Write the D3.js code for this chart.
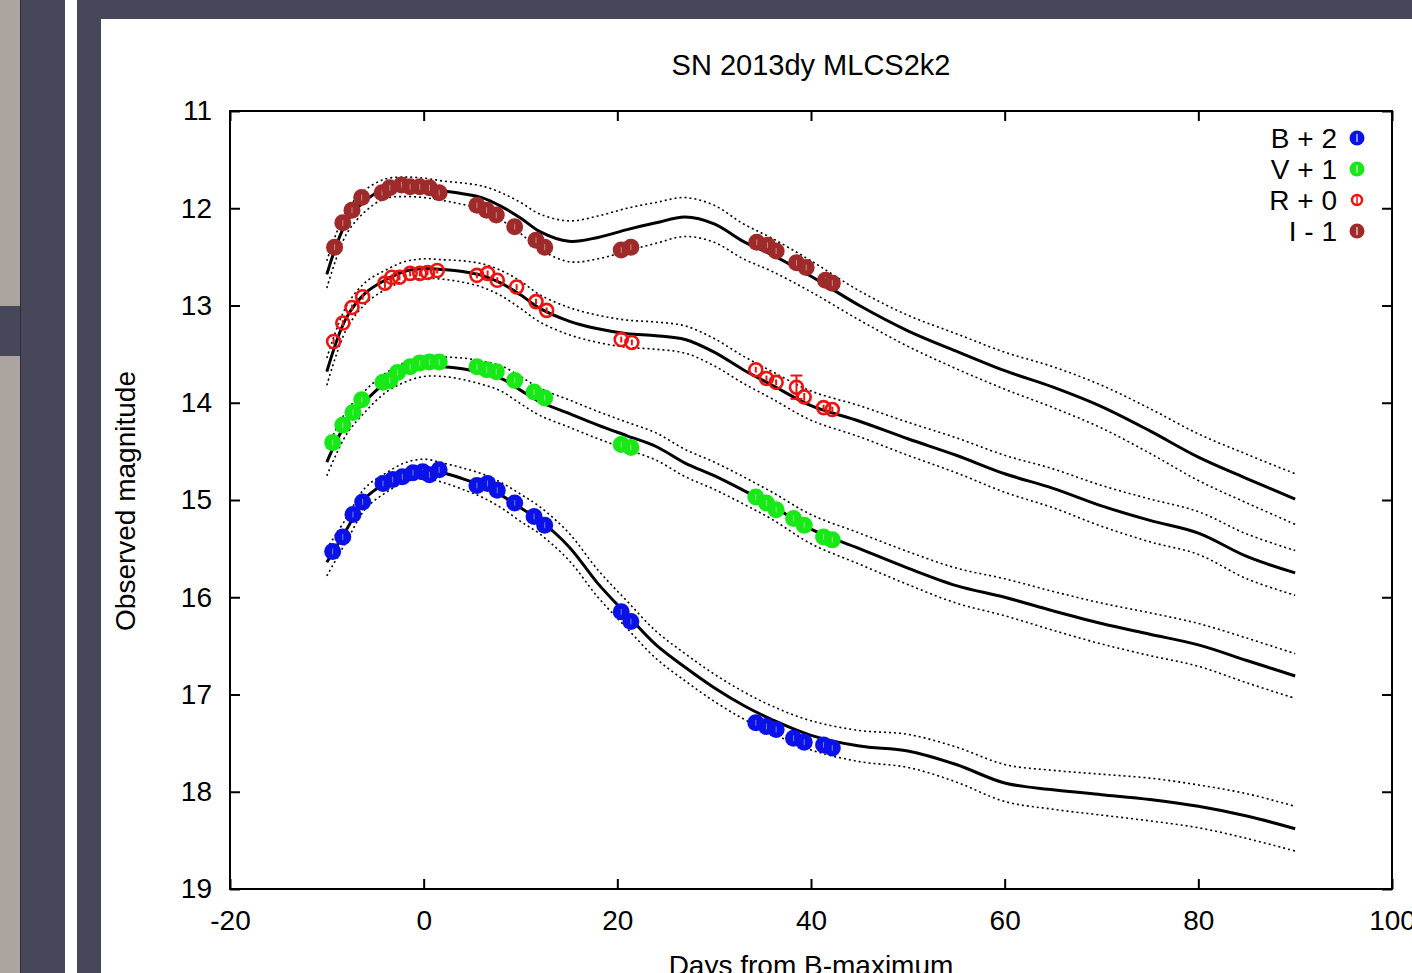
<html>
<head>
	<meta charset="utf-8">
	<style type="text/css">
		body { margin: 0; background: #464759; overflow: hidden; }
		svg text { font-family: "Liberation Sans", Arial, Helvetica, sans-serif; fill: #000; }
		.model { fill: none; stroke: #000; stroke-width: 3; }
		.model.sig { stroke-width: 1.6; stroke-dasharray: 2 3; }
		.frame { fill: none; stroke: #000; stroke-width: 2; }
		.tick line { stroke: #000; stroke-width: 2; }
	</style>
	<script src="https://d3js.org/d3.v7.min.js"></script>
</head>
<body>
<script type="text/javascript">

	// plotted values (offsets B+2, V+1, R+0, I-1 already applied)
	var bDays = [-9.4,-8.35,-7.3,-6.3,-4.2,-3.2,-2.2,-1.1,-0.1,0.6,1.6,5.5,6.6,7.6,9.4,11.4,12.5,20.4,21.4,34.3,35.4,36.4,38.2,39.3,41.3,42.2];
	var bMag  = [15.53,15.38,15.15,15.02,14.83,14.79,14.76,14.72,14.71,14.74,14.69,14.85,14.83,14.90,15.03,15.17,15.26,16.15,16.25,17.29,17.33,17.36,17.45,17.49,17.52,17.55];

	var vDays = [-9.4,-8.35,-7.3,-6.4,-4.2,-3.5,-2.7,-1.4,-0.4,0.6,1.6,5.5,6.5,7.5,9.4,11.4,12.5,20.4,21.4,34.3,35.4,36.4,38.2,39.3,41.3,42.2];
	var vMag  = [14.41,14.23,14.10,13.97,13.79,13.77,13.69,13.63,13.59,13.58,13.58,13.63,13.66,13.68,13.77,13.89,13.95,14.43,14.46,14.97,15.03,15.10,15.19,15.26,15.38,15.41];

	var rDays = [-9.3,-8.35,-7.4,-6.3,-4.0,-3.3,-2.5,-1.4,-0.4,0.4,1.4,5.5,6.6,7.6,9.6,11.6,12.7,20.4,21.5,34.3,35.4,36.4,38.5,39.3,41.3,42.2];
	var rMag  = [13.37,13.18,13.02,12.91,12.77,12.71,12.71,12.67,12.67,12.66,12.64,12.69,12.67,12.74,12.81,12.96,13.05,13.35,13.38,13.66,13.75,13.79,13.84,13.94,14.05,14.07];
	var rErr  = [0.03,0.03,0.03,0.03,0.05,0.03,0.03,0.03,0.03,0.03,0.03,0.03,0.03,0.03,0.03,0.03,0.03,0.03,0.03,0.03,0.03,0.03,0.12,0.04,0.03,0.03];

	var iDays = [-9.2,-8.35,-7.4,-6.4,-4.3,-3.5,-2.3,-1.4,-0.4,0.6,1.6,5.5,6.5,7.5,9.4,11.6,12.5,20.4,21.4,34.4,35.5,36.4,38.5,39.5,41.5,42.2];
	var iMag  = [12.40,12.15,12.02,11.89,11.84,11.79,11.76,11.78,11.78,11.79,11.84,11.97,12.02,12.07,12.19,12.33,12.40,12.43,12.40,12.35,12.38,12.44,12.56,12.61,12.74,12.77];

	// MLCS2k2 model curves and their half-width (dotted lines)
	var modelDays = [-10,-8,-6,-4,-2,0,2,4,6,8,10,12,15,18,21,24,27,30,33,36,40,45,50,55,60,65,70,75,80,85,90];
	var modelB = [15.64,15.31,14.98,14.83,14.72,14.68,14.72,14.78,14.85,14.95,15.08,15.21,15.48,15.86,16.18,16.49,16.72,16.93,17.11,17.26,17.42,17.53,17.58,17.72,17.91,17.98,18.03,18.08,18.15,18.25,18.38];
	var modelV = [14.61,14.21,13.98,13.80,13.69,13.63,13.63,13.65,13.69,13.75,13.87,13.99,14.11,14.23,14.34,14.45,14.62,14.75,14.90,15.06,15.30,15.50,15.70,15.88,16.00,16.14,16.27,16.38,16.49,16.65,16.81];
	var modelR = [13.68,13.13,12.87,12.74,12.65,12.62,12.63,12.65,12.69,12.77,12.89,13.03,13.16,13.24,13.29,13.31,13.35,13.48,13.66,13.82,14.03,14.19,14.37,14.54,14.73,14.88,15.06,15.21,15.34,15.58,15.75];
	var modelI = [12.68,12.15,11.92,11.80,11.78,11.79,11.82,11.85,11.89,11.98,12.10,12.24,12.34,12.30,12.22,12.15,12.09,12.16,12.34,12.48,12.70,13.00,13.26,13.47,13.67,13.84,14.04,14.29,14.56,14.78,14.99];
	var sigma  = [0.14,0.12,0.11,0.10,0.10,0.10,0.10,0.11,0.12,0.13,0.14,0.14,0.14,0.14,0.14,0.14,0.14,0.14,0.14,0.14,0.15,0.16,0.17,0.18,0.19,0.20,0.21,0.22,0.22,0.23,0.23];
	var sigmaI = [0.14,0.12,0.11,0.10,0.10,0.10,0.10,0.11,0.12,0.14,0.16,0.18,0.21,0.22,0.22,0.21,0.20,0.19,0.18,0.17,0.16,0.15,0.16,0.18,0.19,0.21,0.22,0.23,0.24,0.25,0.26];

	var xTicks = [-20,0,20,40,60,80,100];
	var yTicks = [11,12,13,14,15,16,17,18,19];
	var legendLabels = ["B + 2","V + 1","R + 0","I - 1"];
	var colors = ["#0a12e8","#18e818","#ec1410","#9e2a2a"];

	var W = 1412, H = 973;
	var plotL = 230, plotR = 1392, plotT = 111, plotB = 889;

	var svg = d3.select("body")
		.append("svg")
			.attr("width", W)
			.attr("height", H);

	// page furniture
	svg.append("rect").attr("x", 0).attr("y", 0).attr("width", 20).attr("height", 306).attr("fill", "#aca59f");
	svg.append("rect").attr("x", 0).attr("y", 356).attr("width", 20).attr("height", H - 356).attr("fill", "#aca59f");
	svg.append("line").attr("x1", 20.5).attr("x2", 20.5).attr("y1", 0).attr("y2", H).attr("stroke", "#2c2d3a");
	svg.append("rect").attr("x", 65).attr("y", 0).attr("width", 12).attr("height", H).attr("fill", "#fff");
	svg.append("rect").attr("x", 101).attr("y", 19).attr("width", W - 101).attr("height", H - 19).attr("fill", "#fff");

	var x = d3.scaleLinear().domain([-20, 100]).range([plotL, plotR]);
	var y = d3.scaleLinear().domain([11, 19]).range([plotT, plotB]);

	svg.append("g")
		.attr("transform", "translate(0," + plotB + ")")
		.call(d3.axisBottom(x).tickValues(xTicks).tickSizeInner(-10).tickSizeOuter(0).tickPadding(21).tickFormat(String))
		.call(function(g) { g.select(".domain").remove(); })
		.selectAll("text").attr("font-size", 28);

	svg.append("g")
		.attr("transform", "translate(0," + plotT + ")")
		.call(d3.axisTop(x).tickValues(xTicks).tickSizeInner(-10).tickSizeOuter(0).tickFormat(""))
		.call(function(g) { g.select(".domain").remove(); });

	svg.append("g")
		.attr("transform", "translate(" + plotL + ",0)")
		.call(d3.axisLeft(y).tickValues(yTicks).tickSizeInner(-10).tickSizeOuter(0).tickPadding(18).tickFormat(String))
		.call(function(g) { g.select(".domain").remove(); })
		.selectAll("text").attr("font-size", 28);

	svg.append("g")
		.attr("transform", "translate(" + plotR + ",0)")
		.call(d3.axisRight(y).tickValues(yTicks).tickSizeInner(-10).tickSizeOuter(0).tickFormat(""))
		.call(function(g) { g.select(".domain").remove(); });

	svg.append("rect")
		.attr("class", "frame")
		.attr("x", plotL).attr("y", plotT)
		.attr("width", plotR - plotL).attr("height", plotB - plotT);

	// model curves
	var line = d3.line()
		.x(function(d) { return x(d[0]); })
		.y(function(d) { return y(d[1]); })
		.curve(d3.curveCatmullRom.alpha(0.5));

	function drawModel(mag, sig) {
		var mid = modelDays.map(function(d, i) { return [d, mag[i]]; });
		var up = modelDays.map(function(d, i) { return [d, mag[i] - sig[i]]; });
		var lo = modelDays.map(function(d, i) { return [d, mag[i] + sig[i]]; });
		svg.append("path").attr("class", "model sig").attr("d", line(up));
		svg.append("path").attr("class", "model sig").attr("d", line(lo));
		svg.append("path").attr("class", "model").attr("d", line(mid));
	}
	drawModel(modelB, sigma);
	drawModel(modelV, sigma);
	drawModel(modelR, sigma);
	drawModel(modelI, sigmaI);

	// data points
	function drawPoints(days, mag, err, color, open) {
		var pts = days.map(function(d, i) { return { t: d, m: mag[i], e: err ? err[i] : 0.03 }; });
		var g = svg.append("g");
		var grp = g.selectAll("g").data(pts).enter().append("g");
		grp.append("circle")
			.attr("cx", function(d) { return x(d.t); })
			.attr("cy", function(d) { return y(d.m); })
			.attr("r", open ? 6.5 : 8.5)
			.attr("fill", open ? "none" : color)
			.attr("stroke", color)
			.attr("stroke-width", open ? 2.6 : 0);
		grp.append("line")
			.attr("x1", function(d) { return x(d.t); })
			.attr("x2", function(d) { return x(d.t); })
			.attr("y1", function(d) { return y(d.m - d.e); })
			.attr("y2", function(d) { return y(d.m + d.e); })
			.attr("stroke", open ? color : "#fff")
			.attr("stroke-opacity", open ? 1 : 0.45)
			.attr("stroke-width", open ? 2 : 1);
		var big = grp.filter(function(d) { return d.e > 0.08; });
		[-1, 1].forEach(function(s) {
			big.append("line")
				.attr("x1", function(d) { return x(d.t) - 6; })
				.attr("x2", function(d) { return x(d.t) + 6; })
				.attr("y1", function(d) { return y(d.m + s * d.e); })
				.attr("y2", function(d) { return y(d.m + s * d.e); })
				.attr("stroke", color).attr("stroke-width", 2);
		});
	}
	drawPoints(bDays, bMag, null, colors[0], false);
	drawPoints(vDays, vMag, null, colors[1], false);
	drawPoints(rDays, rMag, rErr, colors[2], true);
	drawPoints(iDays, iMag, null, colors[3], false);

	// legend
	var leg = svg.append("g")
		.selectAll("g")
		.data(legendLabels)
		.enter()
		.append("g")
			.attr("transform", function(d, i) { return "translate(0," + (138 + i * 31) + ")"; });
	leg.append("text")
		.attr("x", 1337)
		.attr("y", 10)
		.attr("text-anchor", "end")
		.attr("font-size", 28)
		.text(function(d) { return d; });
	leg.append("circle")
		.attr("cx", 1357).attr("cy", 0)
		.attr("r", function(d, i) { return i == 2 ? 5 : 7.5; })
		.attr("fill", function(d, i) { return i == 2 ? "none" : colors[i]; })
		.attr("stroke", function(d, i) { return colors[i]; })
		.attr("stroke-width", function(d, i) { return i == 2 ? 2.5 : 0; });
	leg.append("line")
		.attr("x1", 1357).attr("x2", 1357).attr("y1", -4).attr("y2", 4)
		.attr("stroke", function(d, i) { return i == 2 ? colors[i] : "#fff"; })
		.attr("stroke-opacity", function(d, i) { return i == 2 ? 1 : 0.7; })
		.attr("stroke-width", 1.5);

	// titles
	svg.append("text")
		.attr("x", 811).attr("y", 75)
		.attr("text-anchor", "middle")
		.attr("font-size", 29)
		.text("SN 2013dy MLCS2k2");

	svg.append("text")
		.attr("transform", "translate(135,501) rotate(-90)")
		.attr("text-anchor", "middle")
		.attr("font-size", 28)
		.text("Observed magnitude");

	svg.append("text")
		.attr("x", 811).attr("y", 975)
		.attr("text-anchor", "middle")
		.attr("font-size", 28)
		.text("Days from B-maximum");

</script>
</body>
</html>
